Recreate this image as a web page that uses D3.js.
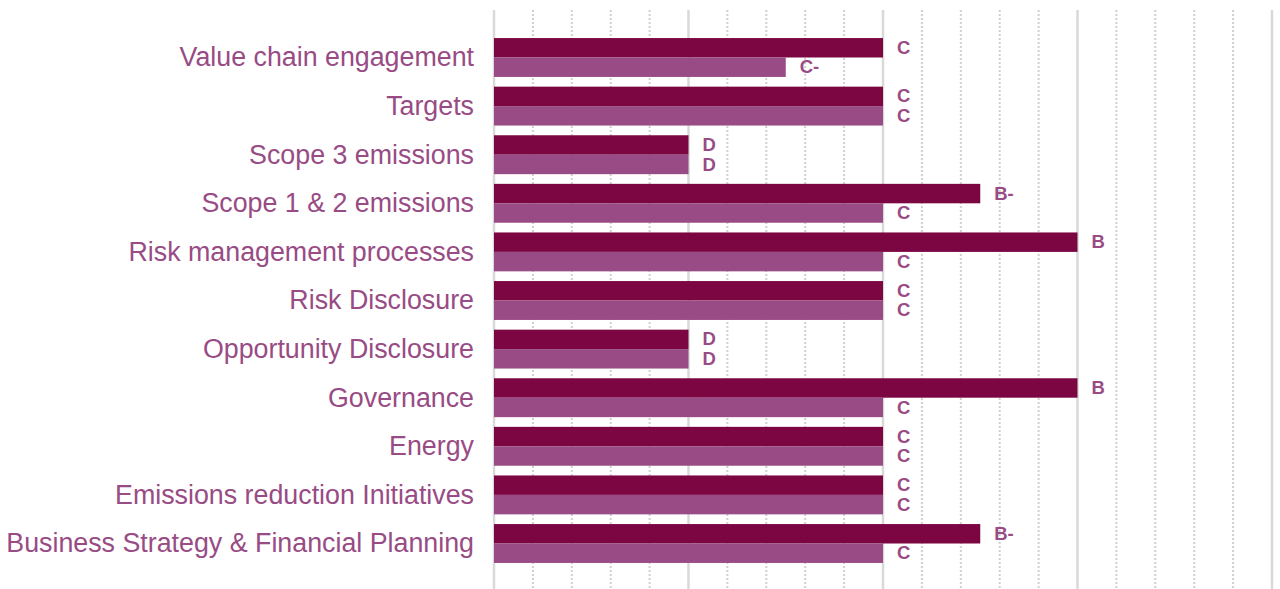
<!DOCTYPE html>
<html>
<head>
<meta charset="utf-8">
<script src="https://cdn.jsdelivr.net/npm/d3@7"></script>
<style>
  html, body { margin: 0; padding: 0; background: #fff; }
  svg { display: block; }
</style>
</head>
<body>
<div id="vis-holder"></div>
<script>
// categories, top to bottom as shown
const categories = [
    "Value chain engagement",
    "Targets",
    "Scope 3 emissions",
    "Scope 1 & 2 emissions",
    "Risk management processes",
    "Risk Disclosure",
    "Opportunity Disclosure",
    "Governance",
    "Energy",
    "Emissions reduction Initiatives",
    "Business Strategy & Financial Planning"
];

// grades for the two series (dark bar first, light bar second)
const gradesCompany = ["C", "C", "D", "B-", "B", "C", "D", "B", "C", "C", "B-"];
const gradesPeers = ["C-", "C", "D", "C", "C", "C", "D", "C", "C", "C", "C"];

// grade -> score on the axis
const gradeLetters = ["D", "C-", "C", "B-", "B"];
const gradeScores = [1, 1.5, 2, 2.5, 3];

const majorTicks = [0, 1, 2, 3, 4];

const width = 1280,
    height = 589;

const colors = ["#7B0641", "#984B84"];
const textColor = "#984B84";

const scoreOf = {};
gradeLetters.forEach((g, i) => scoreOf[g] = gradeScores[i]);

const svg = d3.select("#vis-holder")
    .append("svg")
    .attr("width", width)
    .attr("height", height);

const x = d3.scaleLinear()
    .domain([0, 4])
    .range([494, 1272]);

const y = d3.scaleBand()
    .domain(categories)
    .range([33.2, 567.8])
    .paddingInner(0.2)
    .paddingOuter(0.1);

const ySub = d3.scaleBand()
    .domain([0, 1])
    .range([0, y.bandwidth()]);

// minor dotted gridlines
const minorTicks = d3.range(0, 4.0001, 0.2).filter(v => Math.abs(v - Math.round(v)) > 1e-6);
svg.append("g")
    .selectAll("line")
    .data(minorTicks)
    .enter().append("line")
    .attr("x1", d => x(d))
    .attr("x2", d => x(d))
    .attr("y1", 10)
    .attr("y2", height)
    .style("stroke", "#D0D0D0")
    .style("stroke-width", 2)
    .style("stroke-dasharray", "2,2");

// major solid gridlines
svg.append("g")
    .selectAll("line")
    .data(majorTicks)
    .enter().append("line")
    .attr("x1", d => x(d))
    .attr("x2", d => x(d))
    .attr("y1", 10)
    .attr("y2", height)
    .style("stroke", "#D9D9D9")
    .style("stroke-width", 2.5);

// bars
const rows = categories.map((c, i) => ({
    cat: c,
    vals: [gradesCompany[i], gradesPeers[i]]
}));

const groups = svg.append("g")
    .selectAll("g")
    .data(rows)
    .enter().append("g")
    .attr("transform", d => "translate(0," + y(d.cat) + ")");

groups.selectAll("rect")
    .data(d => d.vals.map((g, k) => ({ grade: g, k: k })))
    .enter().append("rect")
    .attr("x", x(0))
    .attr("y", d => ySub(d.k))
    .attr("width", d => x(scoreOf[d.grade]) - x(0))
    .attr("height", ySub.bandwidth())
    .style("fill", d => colors[d.k]);

// grade labels
groups.selectAll("text")
    .data(d => d.vals.map((g, k) => ({ grade: g, k: k })))
    .enter().append("text")
    .attr("x", d => x(scoreOf[d.grade]) + 14)
    .attr("y", d => ySub(d.k) + ySub.bandwidth() / 2)
    .attr("dy", "0.33em")
    .style("font-family", "'Liberation Sans', Arial, sans-serif")
    .style("font-size", "18.5px")
    .style("font-weight", "bold")
    .style("fill", textColor)
    .text(d => d.grade);

// category labels
svg.append("g")
    .selectAll("text")
    .data(categories)
    .enter().append("text")
    .attr("x", 474)
    .attr("y", d => y(d) + y.bandwidth() / 2)
    .attr("dy", "0.33em")
    .attr("text-anchor", "end")
    .style("font-family", "'Liberation Sans', Arial, sans-serif")
    .style("font-size", "26.8px")
    .style("fill", textColor)
    .text(d => d);
</script>
</body>
</html>
